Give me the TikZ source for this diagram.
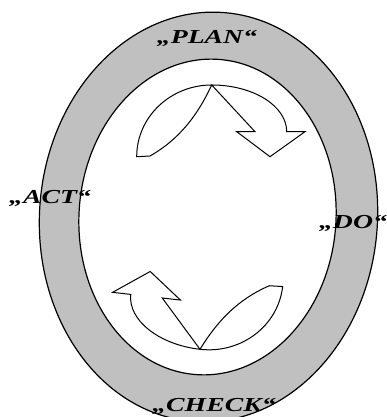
\documentclass[tikz,border=0pt]{standalone}
\usepackage{fontspec}
\setmainfont{Liberation Serif}
\definecolor{ringgray}{RGB}{192,192,192}
\begin{document}
\begin{tikzpicture}[x=1pt,y=-1pt,
  ring/.style={draw=black,line width=1.2pt},
  cyc/.style={draw=black,fill=white,line width=1pt,line join=miter},
  lbl/.style={font=\fontsize{19.8}{22}\selectfont\bfseries\itshape,xscale=1.4,anchor=base,inner sep=0pt}]
\useasboundingbox (0,0) rectangle (387,417);
\clip (0,0) rectangle (387,417);
\fill[white] (0,0) rectangle (387,417);
% ring
\draw[ring,fill=ringgray,rotate around={-4:(208.5,217)}] (208.5,217) ellipse [x radius=169,y radius=205];
\draw[ring,fill=white,rotate around={-4:(207.5,217)}] (207.5,217) ellipse [x radius=128.5,y radius=158];
% top cycle arrow
\begin{scope}[shift={(211.7,85)}]
  \draw[cyc] (0,0) .. controls (-41.4,0) and (-75,32.1) .. (-75,71.7) -- (-61.7,71)
     .. controls (-32,54) and (-14,30) .. (0,0) -- cycle;
  \draw[cyc] (0,0) .. controls (41.4,0) and (75,20.9) .. (75,46.7) -- (93.3,46.7)
     -- (58.3,71.7) -- (25,46.7) -- (43.3,46.7) -- cycle;
\end{scope}
% bottom cycle arrow
\begin{scope}[shift={(200,349.3)},rotate=173.5]
  \draw[cyc] (0,0) .. controls (-41.4,0) and (-75,32.1) .. (-75,71.7) -- (-61.7,71)
     .. controls (-32,54) and (-14,30) .. (0,0) -- cycle;
  \draw[cyc] (0,0) .. controls (41.4,0) and (75,20.9) .. (75,46.7) -- (93.3,46.7)
     -- (58.3,71.7) -- (25,46.7) -- (43.3,46.7) -- cycle;
\end{scope}
% labels
\node[lbl] (plan) at (207,44) {„PLAN“};
\node[lbl] (act) at (50,203) {„ACT“};
\node[lbl] (do) at (353,228) {„DO“};
\node[lbl] (check) at (214,411) {„CHECK“};
\end{tikzpicture}
\end{document}
